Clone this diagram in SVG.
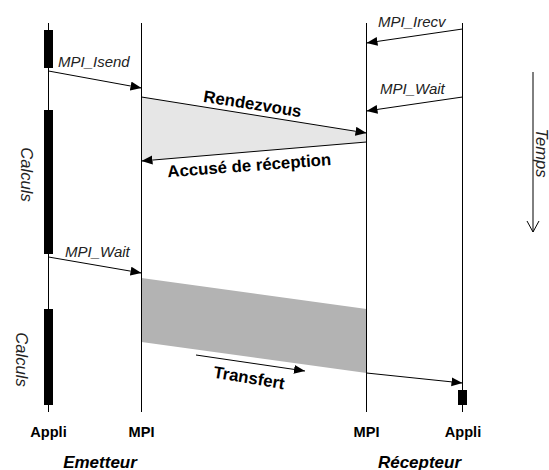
<svg xmlns="http://www.w3.org/2000/svg" width="549" height="470" viewBox="0 0 549 470">
<style>
.life{stroke:#000;stroke-width:1;fill:none}
.bar{fill:#000}
.conn{stroke:#000;stroke-width:1;fill:none}
.lbl{font-family:"Liberation Sans",Arial,sans-serif;font-style:italic;font-size:15px;fill:#222}
.big{font-family:"Liberation Sans",Arial,sans-serif;font-weight:bold;font-size:16.8px;fill:#000}
.hdr{font-family:"Liberation Sans",Arial,sans-serif;font-weight:bold;font-size:14.6px;fill:#000}
.side{font-family:"Liberation Sans",Arial,sans-serif;font-weight:bold;font-style:italic;font-size:17px;fill:#000}
.rot{font-family:"Liberation Sans",Arial,sans-serif;font-style:italic;font-size:16.6px;fill:#222}
</style>
<defs>
<marker id="ah" markerUnits="userSpaceOnUse" markerWidth="12" markerHeight="10" refX="11" refY="4.5" orient="auto">
<path d="M0,0 L11,4.5 L0,9 z" fill="#000"/>
</marker>
</defs>
<rect width="549" height="470" fill="#fff"/>

<!-- bands -->
<polygon points="141.5,97 366.5,133 366.5,142 141.5,161" fill="#e6e6e6"/>
<polygon points="141.5,278 366.5,309 366.5,373 141.5,342" fill="#b3b3b3"/>

<g id="appli-emetteur">
<line class="life" x1="48.5" y1="23" x2="48.5" y2="412"/>
<rect class="bar" x="44" y="30" width="9" height="38"/>
<rect class="bar" x="44" y="110" width="9" height="144"/>
<rect class="bar" x="44" y="309" width="9" height="96"/>
<text class="rot" transform="translate(21,174.5) rotate(90)" text-anchor="middle">Calculs</text>
<text class="rot" transform="translate(15.5,359.5) rotate(90)" text-anchor="middle">Calculs</text>
<text class="hdr" x="48.5" y="437" text-anchor="middle">Appli</text>
</g>
<g id="mpi-emetteur">
<line class="life" x1="141.5" y1="23" x2="141.5" y2="412"/>
<text class="hdr" x="141.5" y="437" text-anchor="middle">MPI</text>
</g>
<g id="mpi-recepteur">
<line class="life" x1="366.5" y1="23" x2="366.5" y2="412"/>
<text class="hdr" x="366.5" y="437" text-anchor="middle">MPI</text>
</g>
<g id="appli-recepteur">
<line class="life" x1="462.5" y1="23" x2="462.5" y2="412"/>
<rect class="bar" x="458" y="390" width="9" height="15"/>
<text class="hdr" x="463" y="437" text-anchor="middle">Appli</text>
</g>
<g id="emetteur">
<text class="side" x="100" y="467.5" text-anchor="middle">Emetteur</text>
</g>
<g id="recepteur">
<text class="side" x="419.5" y="467.5" text-anchor="middle">Récepteur</text>
</g>
<g id="temps">
<line class="conn" x1="533" y1="72" x2="533" y2="232" stroke-width="1.3"/>
<polyline class="conn" points="527,221 533,232 539,221" stroke-width="1.3"/>
<text class="rot" transform="translate(535.5,153) rotate(90)" text-anchor="middle" font-size="16px">Temps</text>
</g>

<g id="connectors">
<line class="conn" x1="48.5" y1="71" x2="141.5" y2="88" marker-end="url(#ah)"/>
<text class="lbl" x="58" y="67">MPI_Isend</text>
<line class="conn" x1="462.5" y1="29" x2="366.5" y2="43" marker-end="url(#ah)"/>
<text class="lbl" x="378" y="27">MPI_Irecv</text>
<line class="conn" x1="462.5" y1="97" x2="366.5" y2="111" marker-end="url(#ah)"/>
<text class="lbl" x="380" y="94">MPI_Wait</text>
<line class="conn" x1="141.5" y1="97" x2="366.5" y2="133" marker-end="url(#ah)"/>
<text class="big" x="251.7" y="109.5" text-anchor="middle" transform="rotate(9 251.7 109.5)">Rendezvous</text>
<line class="conn" x1="366.5" y1="142" x2="141.5" y2="161" marker-end="url(#ah)"/>
<text class="big" x="249.7" y="171.2" text-anchor="middle" transform="rotate(-4.3 249.7 171.2)">Accusé de réception</text>
<line class="conn" x1="48.5" y1="257" x2="141.5" y2="273" marker-end="url(#ah)"/>
<text class="lbl" x="65" y="256.5">MPI_Wait</text>
<line class="conn" x1="196" y1="355" x2="305" y2="371" marker-end="url(#ah)"/>
<text class="big" x="248.2" y="383.4" text-anchor="middle" transform="rotate(9.5 248.2 383.4)">Transfert</text>
<line class="conn" x1="366.5" y1="373" x2="462.5" y2="383" marker-end="url(#ah)"/>
</g>
</svg>
